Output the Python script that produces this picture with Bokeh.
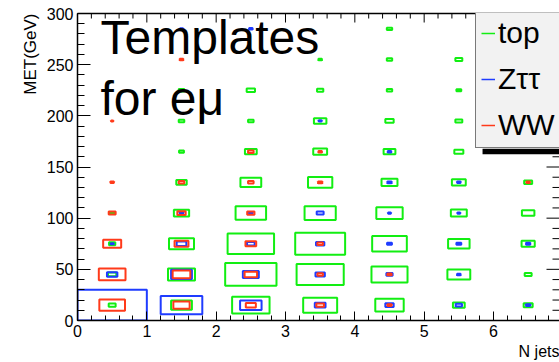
import numpy as np
from bokeh.plotting import figure
from bokeh.models import (ColumnDataSource, LinearAxis, SingleIntervalTicker, FixedTicker,
                          Legend, LegendItem, Label, BoxAnnotation, Range1d, Title)
from bokeh.embed import file_html
from bokeh.resources import INLINE

# Binning of the templates
njet_edges = [0, 1, 2, 3, 4, 5, 6, 7]
met_edges = [0, 30, 60, 90, 120, 150, 180, 210, 240, 270, 300]

# Box size per bin, in percent of the full bin
# (rows: MET bins from low to high, columns: N jets = 0 .. 6)
top_box = [
    [10, 30, 54, 49, 41, 17, 13],
    [12, 39, 74, 68, 52, 33, 10],
    [9, 36, 67, 72, 50, 31, 19],
    [7, 22, 44, 45, 38, 23, 18],
    [0, 15, 30, 35, 23, 20, 11.5],
    [0, 7, 17, 20, 17, 13, 0],
    [0, 8, 8, 18, 12, 10, 0],
    [0, 8, 12, 9, 7.7, 7, 0],
    [0, 0, 0, 5, 7.7, 10, 0],
    [0, 0, 0, 0, 7.7, 0, 0],
]
ztt_box = [
    [100, 60, 31, 15.5, 12, 9, 6],
    [15, 30, 23, 13.5, 9, 5, 0],
    [4, 14, 11, 12, 7, 7, 6],
    [0, 5, 5, 10, 4, 4, 0],
    [0, 0, 0, 0, 6, 5, 0],
    [0, 0, 0, 0, 5, 0, 0],
    [0, 0, 0, 4, 0, 0, 0],
    [0, 0, 0, 0, 0, 0, 0],
    [0, 0, 0, 0, 0, 0, 0],
    [0, 4.5, 5, 0, 0, 0, 0],
]
ww_box = [
    [37, 23.5, 14.5, 11, 6, 0, 0],
    [38.5, 25.5, 18, 8, 6, 0, 0],
    [26, 20, 15.5, 8, 0, 0, 0],
    [10, 12, 10.5, 0, 0, 0, 0],
    [5, 8, 8, 6, 0, 0, 5],
    [0, 0, 8, 5, 0, 0, 0],
    [3, 0, 0, 0, 0, 0, 0],
    [0, 0, 0, 0, 0, 0, 0],
    [0, 5, 0, 0, 0, 0, 0],
    [0, 0, 0, 0, 0, 0, 0],
]

series = [("top", top_box, "#12ee12"),
          ("Z\u03c4\u03c4", ztt_box, "#1f3cff"),
          ("WW", ww_box, "#ff3a1a")]

FONT = "Liberation Sans"
X_END = 6.952


def box_source(grid):
    xs, ys, ws, hs = [], [], [], []
    for i in range(len(met_edges) - 1):
        for j in range(len(njet_edges) - 1):
            v = grid[i][j]
            if v <= 0:
                continue
            f = v / 100.0
            xs.append(0.5 * (njet_edges[j] + njet_edges[j + 1]))
            ys.append(0.5 * (met_edges[i] + met_edges[i + 1]))
            ws.append(f * (njet_edges[j + 1] - njet_edges[j]))
            hs.append(f * (met_edges[i + 1] - met_edges[i]))
    return ColumnDataSource(dict(x=xs, y=ys, w=ws, h=hs))


p = figure(width=559, height=362,
           x_range=Range1d(0, X_END), y_range=Range1d(0, 300),
           output_backend="svg", toolbar_location=None,
           x_axis_location=None, y_axis_location=None,
           min_border_left=77, min_border_right=0,
           min_border_top=13, min_border_bottom=42)
p.outline_line_color = None
p.grid.visible = False
p.background_fill_color = "white"
p.border_fill_color = "white"


def make_axis(interval, major_in, minor_in):
    ax = LinearAxis(ticker=SingleIntervalTicker(interval=interval, num_minor_ticks=5))
    ax.major_tick_in = major_in
    ax.major_tick_out = 0
    ax.minor_tick_in = minor_in
    ax.minor_tick_out = 0
    ax.axis_line_width = 1.5
    ax.axis_line_color = "black"
    ax.major_tick_line_color = "black"
    ax.minor_tick_line_color = "black"
    ax.major_label_text_font = FONT
    ax.major_label_text_font_size = "16px"
    ax.major_label_text_color = "black"
    ax.major_label_standoff = 4
    return ax


p.add_layout(make_axis(1, 9, 5), "below")
p.add_layout(make_axis(50, 13, 7), "left")

# Top frame edge: a bare axis line (no ticks, no labels)
top_ax = LinearAxis(ticker=FixedTicker(ticks=[]), axis_line_width=1.5,
                    axis_line_color="black", major_tick_in=0, major_tick_out=0,
                    minor_tick_in=0, minor_tick_out=0)
p.add_layout(top_ax, "above")

# Inward ticks on the top and right frame edges (dashes centred on the edge,
# the outer half is clipped by the frame)
x_major = np.arange(njet_edges[0], njet_edges[-1] + 1e-9, 1.0)
x_minor = np.setdiff1d(np.round(np.arange(njet_edges[0], njet_edges[-1] + 1e-9, 0.2), 6), x_major)
y_major = np.arange(met_edges[0], met_edges[-1] + 1e-9, 50.0)
y_minor = np.setdiff1d(np.arange(met_edges[0], met_edges[-1] + 1e-9, 10.0), y_major)
p.scatter(x=x_major, y=np.full(len(x_major), met_edges[-1]), marker="dash",
          size=18, angle=np.pi / 2, line_color="black", line_width=1)
p.scatter(x=x_minor, y=np.full(len(x_minor), met_edges[-1]), marker="dash",
          size=10, angle=np.pi / 2, line_color="black", line_width=1)
p.scatter(x=np.full(len(y_major), X_END), y=y_major, marker="dash",
          size=26, line_color="black", line_width=1)
p.scatter(x=np.full(len(y_minor), X_END), y=y_minor, marker="dash",
          size=14, line_color="black", line_width=1)

# Template boxes
legend_items = []
for name, grid, color in series:
    p.rect(x="x", y="y", width="w", height="h", source=box_source(grid),
           fill_color=None, line_color=color, line_width=2)
    icon = p.line(x=[np.nan], y=[np.nan], line_color=color, line_width=1.5)
    legend_items.append(LegendItem(label=name, renderers=[icon]))

# Text inside the frame
p.add_layout(Label(x=0.332, y=251, text="Templates", text_font=FONT,
                   text_font_size="48px", text_color="black"))
p.add_layout(Label(x=0.332, y=191, text="for e\u03bc", text_font=FONT,
                   text_font_size="48px", text_color="black"))

# Axis titles, right-aligned at the end of each axis
p.add_layout(Title(text="MET(GeV)", align="right", text_font=FONT,
                   text_font_size="17px", text_font_style="normal",
                   text_color="black", standoff=8), "left")
p.add_layout(Title(text="N jets", align="right", text_font=FONT,
                   text_font_size="16px", text_font_style="normal",
                   text_color="black", standoff=2), "below")

# Legend with its drop shadow
p.add_layout(BoxAnnotation(left=5.842, bottom=162.5, top=167.9,
                           fill_color="black", fill_alpha=1, line_color=None))
legend = Legend(items=legend_items, location=(398, 172),
                border_line_color="black", border_line_width=1,
                background_fill_color="#f2f2f2", background_fill_alpha=1,
                label_text_font=FONT, label_text_font_size="30px",
                label_text_color="black",
                glyph_width=14, glyph_height=30, label_height=30, label_width=70,
                label_standoff=3, padding=5, spacing=12, margin=0)
p.add_layout(legend)

open("out.html", "w").write(file_html(p, INLINE))
